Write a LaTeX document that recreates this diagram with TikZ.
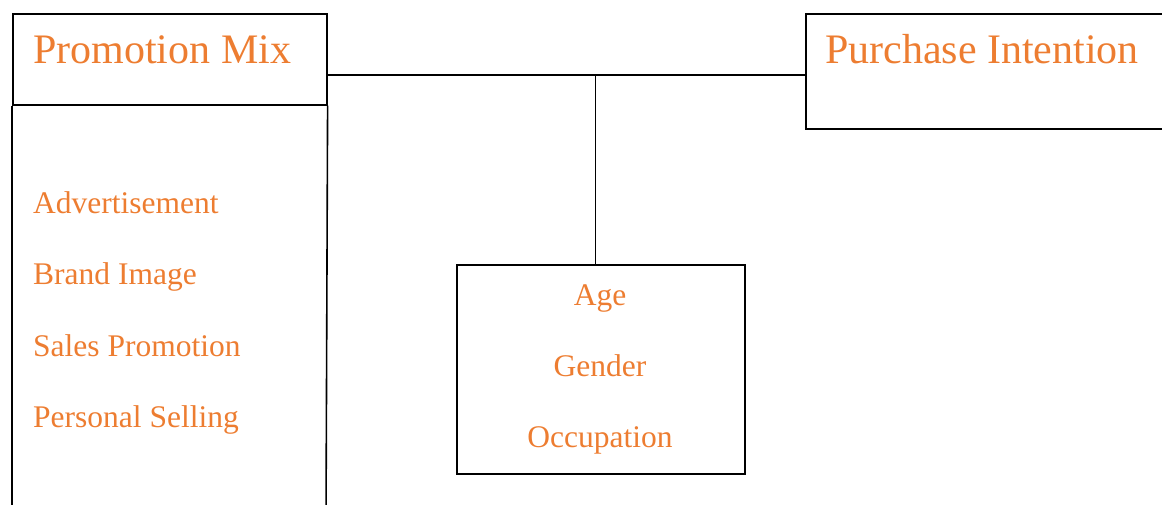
\documentclass[tikz,border=0pt]{standalone}
\usepackage{fontspec}
\setmainfont{Liberation Serif}
\definecolor{txtorange}{HTML}{ED7D31}
\begin{document}
\begin{tikzpicture}[x=1pt,y=-1pt,
  box/.style={draw=black,line width=1.6pt,rectangle,inner sep=0pt,anchor=north west},
  conn/.style={draw=black,line width=1.6pt},
  bigtxt/.style={text=txtorange,font=\fontsize{42}{48}\selectfont,inner sep=0pt,anchor=base west},
  itemtxt/.style={text=txtorange,font=\fontsize{31.5}{36}\selectfont,inner sep=0pt},
]
\useasboundingbox (0,0) rectangle (1162,504);
\clip (0,0) rectangle (1162,504);
% Promotion Mix header and body
\node[box,minimum width=314pt,minimum height=91pt] (pm) at (12,13) {};
\coordinate (pmbl) at (12,520);
\coordinate (pmbr) at (326,520);
\draw[conn] (pm.south west) -- (pmbl);
\draw[conn] (pm.south east) -- (pmbr);
\node[bigtxt] (pmt) at (33,63) {Promotion Mix};
\node[itemtxt,anchor=base west] (i1) at (33,213) {Advertisement};
\node[itemtxt,anchor=base west] (i2) at (33,284) {Brand Image};
\node[itemtxt,anchor=base west] (i3) at (33,356) {Sales Promotion};
\node[itemtxt,anchor=base west] (i4) at (33,427) {Personal Selling};
% Purchase Intention
\node[box,minimum width=380pt,minimum height=115pt] (pi) at (805,13) {};
\node[bigtxt] (pit) at (825,63) {Purchase Intention};
% Demographics
\node[box,minimum width=288pt,minimum height=209pt] (demo) at (456,264) {};
\node[itemtxt,anchor=base] (d1) at (600,305) {Age};
\node[itemtxt,anchor=base] (d2) at (600,376) {Gender};
\node[itemtxt,anchor=base] (d3) at (600,447) {Occupation};
% connectors
\coordinate (j) at (595.5,75);
\draw[conn] (pm.east |- j) -- (pi.west |- j);
\draw[conn] (j) -- (demo.north -| j);
\end{tikzpicture}
\end{document}
